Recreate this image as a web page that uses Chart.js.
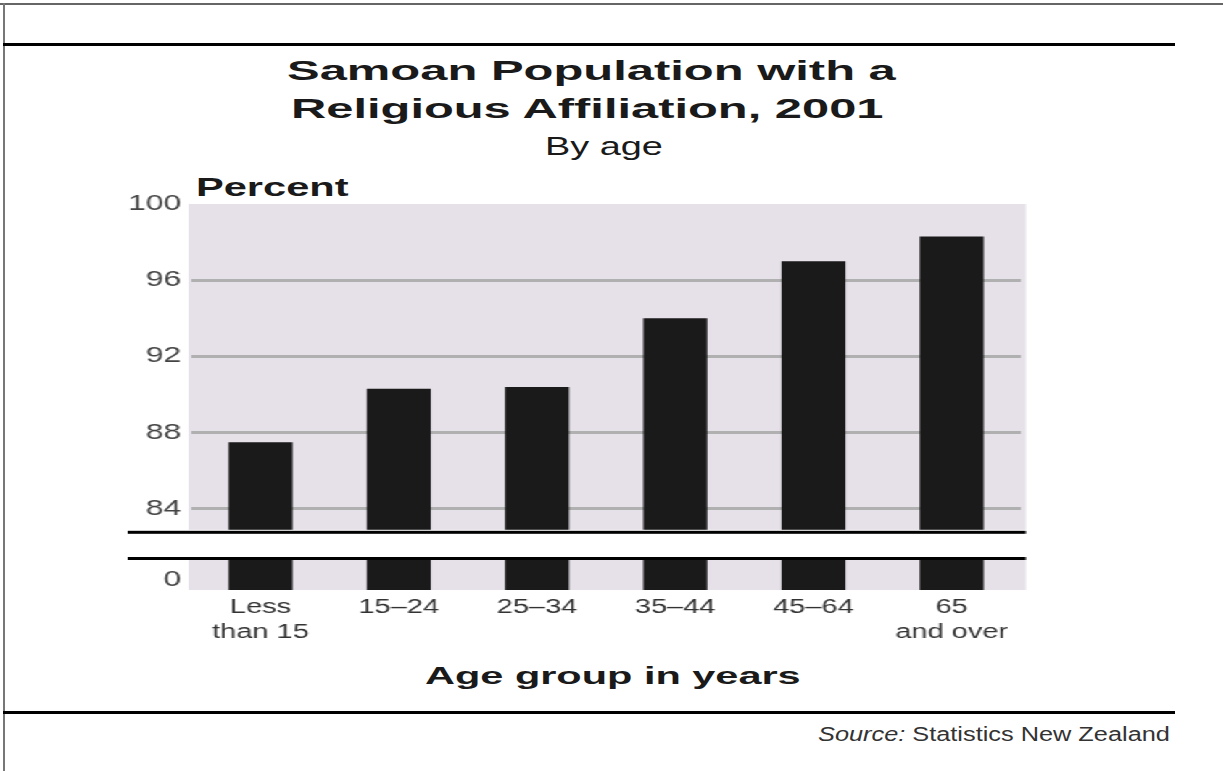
<!DOCTYPE html>
<html>
<head>
<meta charset="utf-8">
<script src="https://cdn.jsdelivr.net/npm/chart.js@4.4.0/dist/chart.umd.min.js"></script>
<style>
  body { margin: 0; background: #fff; width: 1223px; height: 771px; overflow: hidden; position: relative;
         font-family: "Liberation Sans", Arial, sans-serif; }
  .rule { position: absolute; background: #000; }
  .txt { position: absolute; white-space: nowrap; color: #1a1a1a; line-height: 1; transform-origin: 0 0; }
  #wrap { position: absolute; left: 0; top: 0; width: 843px; height: 771px; transform: scaleX(1.45); transform-origin: 0 0; }
  #wrap canvas { position: absolute; left: 0; }
</style>
</head>
<body>
<div class="rule" style="left:0;top:3px;width:1223px;height:2px;background:#666"></div>
<div class="rule" style="left:3px;top:3px;width:2px;height:768px;background:#777"></div>
<div class="rule" style="left:3px;top:43px;width:1172px;height:3px"></div>
<div class="rule" style="left:3px;top:711px;width:1172px;height:3px"></div>

<div class="txt" id="t1" style="left:287px;top:57px;font-size:28px;font-weight:bold">Samoan Population with a</div>
<div class="txt" id="t2" style="left:291px;top:95px;font-size:28px;font-weight:bold">Religious Affiliation, 2001</div>
<div class="txt" id="t3" style="left:545px;top:133px;font-size:26px">By age</div>
<div class="txt" id="yl" style="left:196px;top:175px;font-size:25px;font-weight:bold">Percent</div>
<div class="txt" id="xl" style="left:425px;top:664px;font-size:24px;font-weight:bold">Age group in years</div>
<div class="txt" id="src" style="left:818px;top:724px;font-size:20px;color:#333"><i>Source:</i> Statistics New Zealand</div>

<div id="wrap">
  <canvas id="upper" width="843" height="380" style="top:170px"></canvas>
  <canvas id="lower" width="843" height="165" style="top:530px"></canvas>
</div>

<script>
const ageGroups = [["Less", "than 15"], "15\u201324", "25\u201334", "35\u201344", "45\u201364", ["65", "and over"]];
const percent = [87.5, 90.3, 90.4, 94.0, 97.0, 98.3];
const upperTicks = [84, 88, 92, 96, 100];
const lowerTicks = [0];

// stretch the html texts to the widths they have in the picture
function fit(id, width) {
    const el = document.getElementById(id);
    el.style.transform = 'scaleX(' + (width / el.offsetWidth) + ')';
}
fit('t1', 608);
fit('t2', 593);
fit('t3', 118);
fit('yl', 153);
fit('xl', 375);
fit('src', 352);

// lavender plot background and the black lines of the axis break
const panel = {
    id: 'panel',
    beforeDraw(chart) {
        const a = chart.chartArea, c = chart.ctx;
        c.save();
        c.fillStyle = '#e6e0e8';
        c.fillRect(a.left - 2, a.top, a.right - a.left + 5.5, a.bottom - a.top);
        c.restore();
    },
    afterDraw(chart, args, opts) {
        const a = chart.chartArea, c = chart.ctx;
        const y = opts.side === 'bottom' ? a.bottom + 1 : a.top - 3;
        c.save();
        c.fillStyle = '#000';
        c.fillRect(88, y, a.right + 3.5 - 88, 3);
        c.restore();
    }
};

function yScale(min, max, ticks, showGrid) {
    return {
        min: min,
        max: max,
        afterFit: (s) => { s.width = 132; },
        afterBuildTicks: (s) => { s.ticks = ticks.map(v => ({ value: v })); },
        border: { display: false },
        grid: {
            display: showGrid,
            drawTicks: false,
            lineWidth: 3,
            color: (ctx) => ctx.tick && ctx.tick.value === 100 ? 'rgba(0,0,0,0)' : '#b0b0b0'
        },
        ticks: {
            padding: 7,
            color: '#444',
            font: { family: 'Liberation Sans', size: 22 }
        }
    };
}

Chart.defaults.animation = false;

new Chart(document.getElementById('upper'), {
    type: 'bar',
    data: {
        labels: ageGroups,
        datasets: [{ data: percent, backgroundColor: '#1a1a1a', barPercentage: 0.463, categoryPercentage: 1, clip: 0 }]
    },
    options: {
        responsive: false,
        layout: { padding: { top: 34, bottom: 19, left: 0, right: 139 } },
        plugins: { legend: { display: false }, tooltip: { enabled: false }, panel: { side: 'bottom' } },
        scales: {
            x: { display: false },
            y: yScale(82.9, 100, upperTicks, true)
        }
    },
    plugins: [panel]
});

new Chart(document.getElementById('lower'), {
    type: 'bar',
    data: {
        labels: ageGroups,
        datasets: [{ data: percent, base: -0.5, backgroundColor: '#1a1a1a', barPercentage: 0.463, categoryPercentage: 1, clip: 0 }]
    },
    options: {
        responsive: false,
        layout: { padding: { top: 30, bottom: 0, left: 0, right: 139 } },
        plugins: { legend: { display: false }, tooltip: { enabled: false }, panel: { side: 'top' } },
        scales: {
            x: {
                afterFit: (s) => { s.height = 105; },
                border: { display: false },
                grid: { display: false, drawTicks: false },
                ticks: {
                    padding: 5,
                    maxRotation: 0,
                    color: '#333',
                    font: { family: 'Liberation Sans', size: 20, lineHeight: 1.25 }
                }
            },
            y: yScale(-0.5, 1, lowerTicks, false)
        }
    },
    plugins: [panel]
});
</script>
</body>
</html>
